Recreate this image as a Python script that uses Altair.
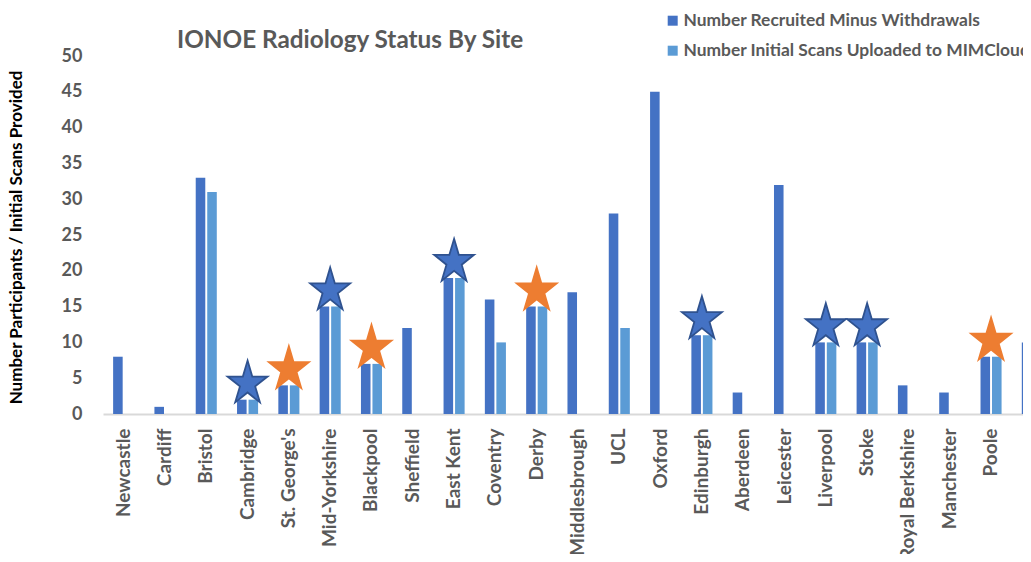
import altair as alt
import pandas as pd

sites = ["Newcastle", "Cardiff", "Bristol", "Cambridge", "St. George's", "Mid-Yorkshire",
         "Blackpool", "Sheffield", "East Kent", "Coventry", "Derby", "Middlesbrough", "UCL",
         "Oxford", "Edinburgh", "Aberdeen", "Leicester", "Liverpool", "Stoke",
         "Royal Berkshire", "Manchester", "Poole", "Sunderland"]
recruited = [8, 1, 33, 2, 4, 15, 7, 12, 19, 16, 15, 17, 28, 45, 11, 3, 32, 10, 10, 4, 3, 8, 10]
scans = [0, 0, 31, 2, 4, 15, 7, 0, 19, 10, 15, 0, 12, 0, 11, 0, 0, 10, 10, 0, 0, 8, 0]

series_names = ["Number Recruited Minus Withdrawals", "Number Initial Scans Uploaded to MIMCloud"]
series_colors = ["#4472C4", "#5B9BD5"]

star_sites = ["Cambridge", "St. George's", "Mid-Yorkshire", "Blackpool", "East Kent", "Derby",
              "Edinburgh", "Liverpool", "Stoke", "Poole"]
star_kind = ["blue", "orange", "blue", "orange", "blue", "orange", "blue", "blue", "blue", "orange"]

y_ticks = [0, 5, 10, 15, 20, 25, 30, 35, 40, 45, 50]

rows = []
for s, a, b in zip(sites, recruited, scans):
    rows.append({"site": s, "series": series_names[0], "value": a})
    rows.append({"site": s, "series": series_names[1], "value": b})
df = pd.DataFrame(rows)

rec_map = dict(zip(sites, recruited))
stars_df = pd.DataFrame({"site": star_sites, "kind": star_kind,
                         "value": [rec_map[s] for s in star_sites]})

FONT = "Lato"
GREY = "#595959"

xscale = alt.Scale(domain=sites, range=[0, 950], paddingInner=0.49, paddingOuter=0.245)
yscale = alt.Scale(domain=[0, 50])

x_axis = alt.Axis(title=None, labelAngle=-90, ticks=False, labelPadding=14,
                  domainColor="#D9D9D9", domainWidth=2, labelFont=FONT,
                  labelFontSize=19, labelFontWeight="bold", labelColor=GREY,
                  labelLimit=400)
y_axis = alt.Axis(title="Number Participants / Initial Scans Provided",
                  values=y_ticks, grid=False, domain=False, ticks=False,
                  labelOverlap=False,
                  labelPadding=21, labelFont=FONT, labelFontSize=18,
                  labelFontWeight="bold", labelColor=GREY,
                  titleFont=FONT, titleFontSize=17, titleFontWeight="bold",
                  titleColor="#000000", titleX=-78, titleY=181)

star_path = ("M0,-1.1 L0.2245,-0.34 L0.951,-0.34 L0.363,0.13 L0.588,0.89 L0,0.42 "
             "L-0.588,0.89 L-0.363,0.13 L-0.951,-0.34 L-0.2245,-0.34 Z")

bars = alt.Chart(df).mark_bar().encode(
    x=alt.X("site:N", sort=sites, scale=xscale, axis=x_axis),
    xOffset=alt.XOffset("series:N", sort=series_names,
                        scale=alt.Scale(domain=series_names, paddingInner=0.17, paddingOuter=0)),
    y=alt.Y("value:Q", scale=yscale, axis=y_axis),
    color=alt.Color("series:N", sort=series_names,
                    scale=alt.Scale(domain=series_names, range=series_colors),
                    legend=alt.Legend(title=None, orient="none", legendX=561, legendY=-44,
                                      symbolType="square", symbolSize=100,
                                      symbolStrokeWidth=0, labelOffset=2,
                                      labelFont=FONT, labelFontSize=17.4,
                                      labelFontWeight="bold", labelColor=GREY,
                                      labelLimit=600, rowPadding=11, padding=0)),
)

stars = alt.Chart(stars_df).mark_point(shape=star_path, size=1764, filled=True,
                                       opacity=1, yOffset=-16).encode(
    x=alt.X("site:N", sort=sites, scale=xscale, axis=x_axis),
    y=alt.Y("value:Q", scale=yscale, axis=y_axis),
    fill=alt.Fill("kind:N", scale=alt.Scale(domain=["blue", "orange"],
                                             range=["#4472C4", "#ED7D31"]), legend=None),
    stroke=alt.Stroke("kind:N", scale=alt.Scale(domain=["blue", "orange"],
                                                 range=["#2F528F", "#ED7D31"]), legend=None),
    strokeWidth=alt.value(1.8),
)

chart = alt.layer(bars, stars).resolve_scale(fill="independent", stroke="independent").properties(
    width=920, height=358,
    autosize=alt.AutoSizeParams(type="none"),
    padding={"left": 95, "top": 48, "right": 0, "bottom": 140},
    title=alt.TitleParams("IONOE Radiology Status By Site", anchor="start", frame="group",
                          dx=74, dy=68, offset=8,
                          baseline="alphabetic", font=FONT, fontSize=24.3,
                          fontWeight="bold", color=GREY),
).configure_view(stroke=None)

chart.save("out.html", embed_options={"renderer": "svg", "actions": False})
